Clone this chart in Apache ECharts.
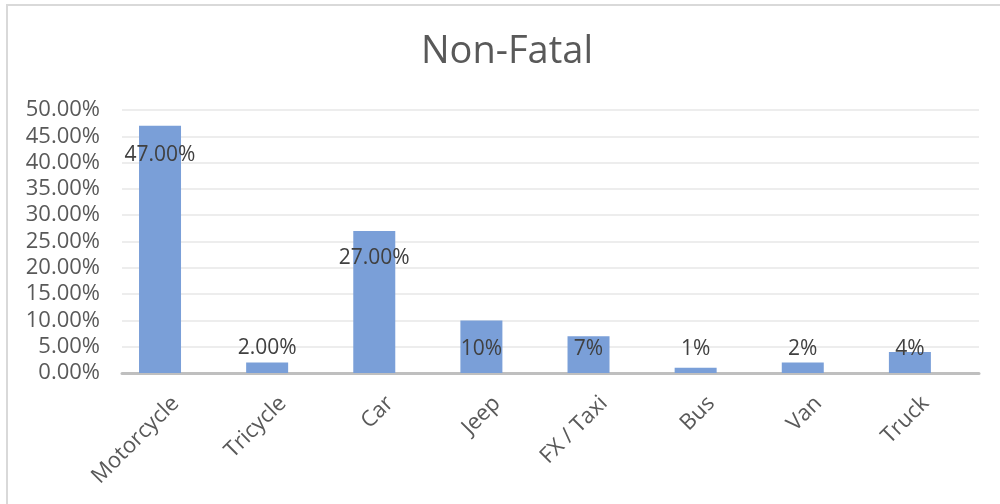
<!DOCTYPE html>
<html>
<head>
<meta charset="utf-8">
<script src="https://cdn.jsdelivr.net/npm/echarts@6/dist/echarts.min.js"></script>
<style>
html,body{margin:0;padding:0;background:#fff;}
#c{width:1000px;height:504px;}
</style>
</head>
<body>
<div id="c"></div>
<script>
const categories = ['Motorcycle', 'Tricycle', 'Car', 'Jeep', 'FX / Taxi', 'Bus', 'Van', 'Truck'];
const values = [0.47, 0.02, 0.27, 0.10, 0.07, 0.01, 0.02, 0.04];
const labelTexts = ['47.00%', '2.00%', '27.00%', '10%', '7%', '1%', '2%', '4%'];
const yTicks = { min: 0, max: 0.5, interval: 0.05 };
const titleText = 'Non-Fatal';

// label vertical offsets (px) to mimic manually placed labels
const labelDy = [40, -4, 37.5, 39, 23.3, -8, -3, 7.5];

const FONT = 'Open Sans';
const chart = echarts.init(document.getElementById('c'), null, { renderer: 'canvas' });

const seriesData = values.map((v, i) => ({
  value: v,
  label: { offset: [0, labelDy[i]], formatter: labelTexts[i] }
}));

chart.setOption({
  animation: false,
  backgroundColor: '#ffffff',
  title: {
    text: titleText,
    left: 416,
    top: 28,
    textStyle: { fontFamily: FONT, fontSize: 38, fontWeight: 'normal', color: '#595959' }
  },
  graphic: [{
    type: 'polyline',
    shape: { points: [[7, 504], [7, 5], [1000, 5]] },
    style: { stroke: '#d9d9d9', lineWidth: 2, fill: null },
    silent: true
  }],
  grid: { left: 122, right: 21, top: 110, bottom: 131, containLabel: false },
  xAxis: {
    type: 'category',
    data: categories,
    axisLine: { show: true, lineStyle: { color: '#bfbfbf', width: 3 } },
    axisTick: { show: false },
    axisLabel: {
      rotate: 45,
      margin: 27,
      interval: 0,
      fontFamily: FONT,
      fontSize: 22,
      color: '#595959'
    }
  },
  yAxis: {
    type: 'value',
    min: yTicks.min,
    max: yTicks.max,
    interval: yTicks.interval,
    axisLine: { show: false },
    axisTick: { show: false },
    splitLine: { show: true, lineStyle: { color: '#ededed', width: 2 } },
    axisLabel: {
      margin: 22,
      fontFamily: FONT,
      fontSize: 22,
      color: '#595959',
      formatter: v => (v * 100).toFixed(2) + '%'
    }
  },
  series: [{
    type: 'bar',
    data: seriesData,
    barWidth: 42,
    barGap: '-26%',
    itemStyle: { color: '#7a9fd8' },
    label: {
      show: true,
      position: 'top',
      distance: 0,
      fontFamily: FONT,
      fontSize: 21,
      color: '#404040'
    }
  }, {
    type: 'bar',
    data: values.map(() => null),
    barWidth: 42,
    itemStyle: { color: 'transparent' }
  }]
});
</script>
</body>
</html>
